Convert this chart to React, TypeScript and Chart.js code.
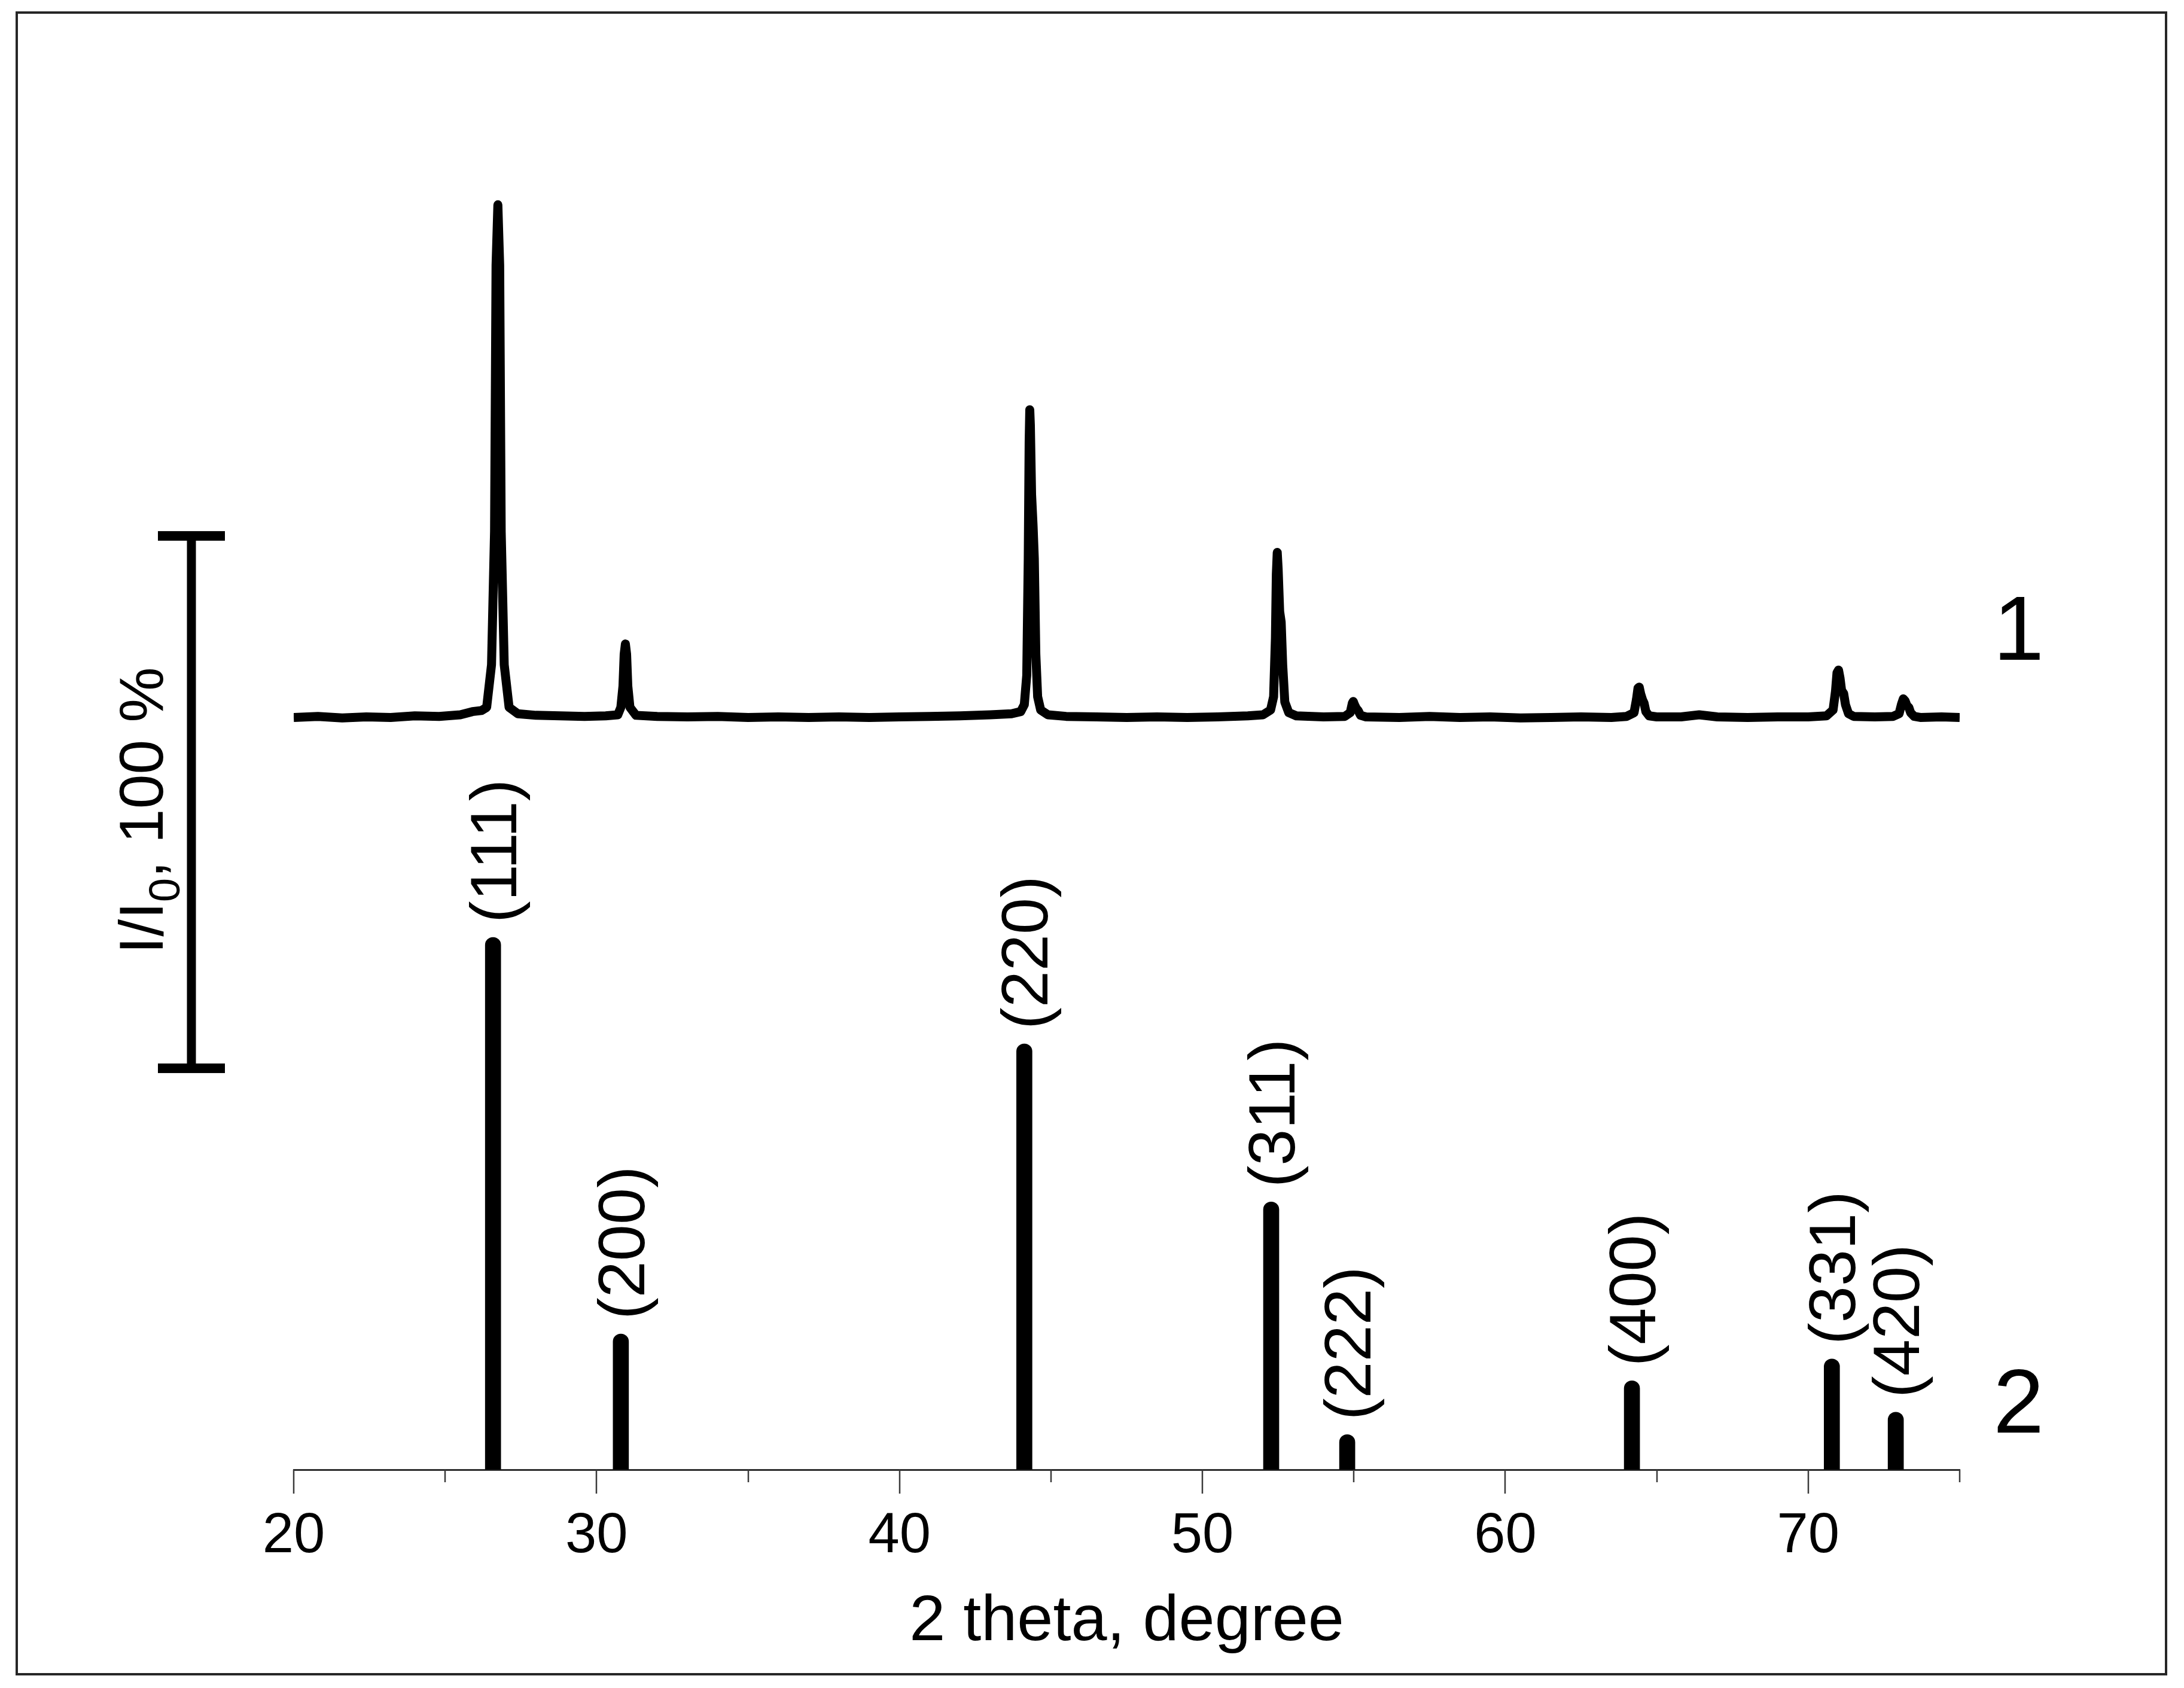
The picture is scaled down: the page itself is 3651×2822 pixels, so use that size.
import { useEffect, useRef } from "react"
import { Chart, registerables } from "chart.js"

Chart.register(...registerables)

const tracePoints: [number, number][] = [
  [20.0, 0.1], [20.8, 0.3], [21.6, 0.0], [22.4, 0.2], [23.2, 0.1], [24.0, 0.4], [24.8, 0.3],
  [25.5, 0.6], [25.9, 1.2], [26.2, 1.4], [26.37, 2.0], [26.53, 10], [26.63, 35], [26.68, 85],
  [26.74, 96.4], [26.8, 85], [26.85, 35], [26.95, 10], [27.11, 2.0], [27.4, 0.8], [28.0, 0.5],
  [28.8, 0.4], [29.6, 0.3], [30.3, 0.4], [30.7, 0.6], [30.8, 2.0], [30.87, 6], [30.91, 12],
  [30.95, 13.9], [30.99, 12], [31.03, 6], [31.1, 2.0], [31.3, 0.5], [32.0, 0.3], [33.0, 0.2],
  [34.0, 0.3], [35.0, 0.1], [36.0, 0.2], [37.0, 0.1], [38.0, 0.2], [39.0, 0.1], [40.0, 0.2],
  [41.0, 0.3], [42.0, 0.4], [43.0, 0.6], [43.7, 0.8], [44.0, 1.2], [44.12, 2.5], [44.2, 8],
  [44.25, 30], [44.28, 52], [44.3, 57.9], [44.32, 55], [44.36, 42], [44.41, 36], [44.45, 30],
  [44.5, 12], [44.56, 4], [44.66, 1.5], [44.9, 0.6], [45.5, 0.3], [46.5, 0.2], [47.5, 0.1],
  [48.5, 0.2], [49.5, 0.1], [50.5, 0.2], [51.5, 0.4], [52.0, 0.6], [52.25, 1.5], [52.35, 4],
  [52.41, 15], [52.44, 27], [52.47, 31.1], [52.5, 28], [52.55, 20], [52.6, 18], [52.65, 10],
  [52.72, 3], [52.85, 1.0], [53.1, 0.4], [54.0, 0.2], [54.7, 0.3], [54.88, 1.0], [54.95, 2.8],
  [54.98, 3.1], [55.02, 2.5], [55.08, 1.8], [55.14, 1.4], [55.22, 0.5], [55.4, 0.2], [56.5, 0.1],
  [57.5, 0.3], [58.5, 0.1], [59.5, 0.2], [60.5, 0.0], [61.5, 0.1], [62.5, 0.2], [63.5, 0.1],
  [64.0, 0.3], [64.25, 1.0], [64.33, 3.5], [64.38, 5.6], [64.42, 5.8], [64.47, 4.5], [64.53, 3.4],
  [64.58, 2.8], [64.64, 1.2], [64.75, 0.4], [65.0, 0.2], [65.8, 0.2], [66.4, 0.6], [67.0, 0.2],
  [68.0, 0.1], [69.0, 0.2], [70.0, 0.2], [70.6, 0.4], [70.82, 1.5], [70.9, 5], [70.95, 8.5],
  [71.0, 9.0], [71.05, 7.5], [71.1, 5.2], [71.17, 4.6], [71.23, 2.5], [71.33, 0.8], [71.5, 0.3],
  [72.2, 0.2], [72.8, 0.3], [73.0, 0.8], [73.08, 2.6], [73.14, 3.6], [73.2, 3.2], [73.26, 2.3],
  [73.32, 2.0], [73.38, 1.0], [73.5, 0.3], [73.7, 0.1], [74.4, 0.2], [75.0, 0.1],
]
const TRACE_OFFSET = 141.2 // curve 1 is stacked above curve 2

// curve 2: reference lines
const refAngles = [26.58, 30.8, 44.12, 52.27, 54.78, 64.18, 70.78, 72.89]
const refIntensity = [100, 25.5, 80, 50.3, 6.6, 16.7, 20.8, 10.8]
const hklLabels = ["(111)", "(200)", "(220)", "(311)", "(222)", "(400)", "(331)", "(420)"]

const xTickValues = [20, 30, 40, 50, 60, 70]

// 100 % scale bar, in the same units as the curves
const SCALE_BAR_FROM = 75.4
const SCALE_BAR_SPAN = 100

const W = 3651
const H = 2822
const FONT = '"Liberation Sans", Arial, Helvetica, sans-serif'

const decorations = {
  id: "decorations",
  afterDraw(chart: Chart) {
    const { ctx, chartArea } = chart
    const xs = chart.scales.x
    const ys = chart.scales.y
    ctx.save()

    // frame round the whole figure
    ctx.strokeStyle = "#262626"
    ctx.lineWidth = 4
    ctx.strokeRect(28, 21, 3593, 2778)

    // ticks under the axis, long ones at labelled values
    ctx.strokeStyle = "#3a3a3a"
    ctx.lineWidth = 2.5
    xs.ticks.forEach((t) => {
      const px = Math.round(xs.getPixelForValue(t.value))
      const len = xTickValues.includes(t.value) ? 40 : 21
      ctx.beginPath()
      ctx.moveTo(px, chartArea.bottom)
      ctx.lineTo(px, chartArea.bottom + len)
      ctx.stroke()
    })

    // hkl labels, rotated
    ctx.fillStyle = "#000"
    ctx.font = `110px ${FONT}`
    ctx.textAlign = "left"
    ctx.textBaseline = "alphabetic"
    refAngles.forEach((a, i) => {
      const px = xs.getPixelForValue(a)
      const py = ys.getPixelForValue(refIntensity[i])
      ctx.save()
      ctx.translate(px + 39, py - 24)
      ctx.rotate(-Math.PI / 2)
      ctx.fillText(hklLabels[i], 0, 0)
      ctx.restore()
    })

    // curve numbers
    ctx.font = `153px ${FONT}`
    ctx.fillText("1", chartArea.right + 56, ys.getPixelForValue(152.1))
    ctx.fillText("2", chartArea.right + 56, ys.getPixelForValue(7.0))

    // scale bar
    const barX = chartArea.left - 171
    const yTop = ys.getPixelForValue(SCALE_BAR_FROM + SCALE_BAR_SPAN)
    const yBot = ys.getPixelForValue(SCALE_BAR_FROM)
    ctx.fillRect(barX - 7.5, yTop, 15, yBot - yTop)
    ctx.fillRect(barX - 56, yTop - 8, 112, 16)
    ctx.fillRect(barX - 56, yBot - 8, 112, 16)

    // I/I0, 100 % label
    const parts: [string, number, number][] = [
      ["I/I", 104, 0],
      ["0", 72, 28],
      [", 100 %", 104, 0],
    ]
    let total = 0
    parts.forEach(([txt, size]) => {
      ctx.font = `${size}px ${FONT}`
      total += ctx.measureText(txt).width
    })
    ctx.save()
    ctx.translate(chartArea.left - 219, (yTop + yBot) / 2 + 14 + total / 2)
    ctx.rotate(-Math.PI / 2)
    let cx = 0
    parts.forEach(([txt, size, shift]) => {
      ctx.font = `${size}px ${FONT}`
      ctx.fillText(txt, cx, shift)
      cx += ctx.measureText(txt).width
    })
    ctx.restore()

    ctx.restore()
  },
}

export default function App() {
  const canvasRef = useRef<HTMLCanvasElement>(null)
  const chartRef = useRef<Chart | null>(null)

  useEffect(() => {
    if (!canvasRef.current) return
    if (chartRef.current) chartRef.current.destroy()

    chartRef.current = new Chart(canvasRef.current, {
      type: "line",
      data: {
        datasets: [
          {
            type: "line",
            label: "1",
            data: tracePoints.map(([a, v]) => ({ x: a, y: v + TRACE_OFFSET })),
            borderColor: "#000",
            borderWidth: 15,
            borderJoinStyle: "round",
            borderCapStyle: "butt",
            pointRadius: 0,
            tension: 0,
            fill: false,
          },
          {
            type: "bar",
            label: "2",
            data: refAngles.map((a, i) => ({ x: a, y: refIntensity[i] })),
            backgroundColor: "#000",
            borderWidth: 0,
            barThickness: 26,
            borderRadius: 13,
            borderSkipped: "start",
          } as any,
        ],
      },
      options: {
        responsive: false,
        devicePixelRatio: 1,
        animation: false,
        events: [],
        layout: { padding: { left: 491, right: 375, top: 232, bottom: 0 } },
        plugins: {
          legend: { display: false },
          tooltip: { enabled: false },
        },
        scales: {
          x: {
            type: "linear",
            min: 20,
            max: 75,
            offset: false,
            afterFit: (scale: any) => {
              scale.height = 365
            },
            grid: { display: true, drawOnChartArea: false, drawTicks: false },
            border: { display: true, color: "#2e2e2e", width: 3 },
            ticks: {
              stepSize: 5,
              autoSkip: false,
              maxRotation: 0,
              padding: 56,
              color: "#000",
              font: { family: FONT, size: 94 },
              callback: (v: any) => (xTickValues.includes(Number(v)) ? String(v) : ""),
            },
            title: {
              display: true,
              text: "2 theta, degree",
              color: "#000",
              font: { family: FONT, size: 108 },
              padding: { top: 0, bottom: 45 },
            },
          },
          y: {
            type: "linear",
            display: false,
            min: 0,
            max: 250,
          },
        },
      },
      plugins: [decorations],
    } as any)

    return () => {
      if (chartRef.current) {
        chartRef.current.destroy()
        chartRef.current = null
      }
    }
  }, [])

  return (
    <div style={{ position: "fixed", left: 0, top: 0, width: W, height: H, background: "#fff" }}>
      <canvas ref={canvasRef} width={W} height={H} style={{ width: W, height: H, display: "block" }} />
    </div>
  )
}
